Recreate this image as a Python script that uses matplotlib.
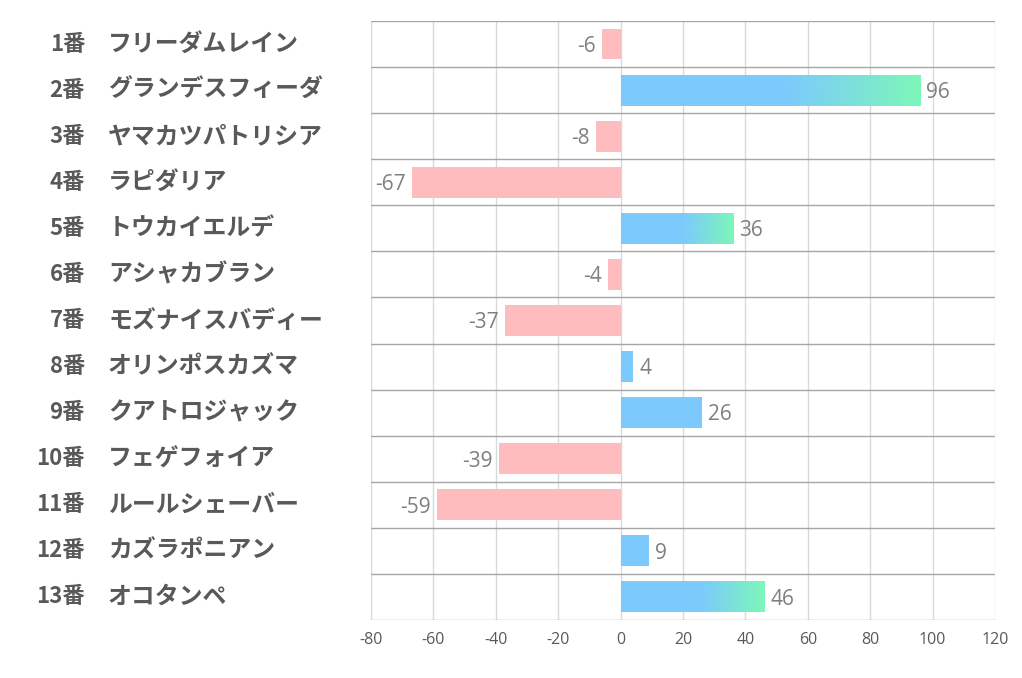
import numpy as np
import matplotlib.pyplot as plt
from matplotlib.colors import LinearSegmentedColormap

# data
nums = ['1番', '2番', '3番', '4番', '5番', '6番', '7番', '8番', '9番', '10番', '11番', '12番', '13番']
names = ['フリーダムレイン', 'グランデスフィーダ', 'ヤマカツパトリシア', 'ラピダリア', 'トウカイエルデ',
         'アシャカブラン', 'モズナイスバディー', 'オリンポスカズマ', 'クアトロジャック', 'フェゲフォイア',
         'ルールシェーバー', 'カズラポニアン', 'オコタンペ']
values = [-6, 96, -8, -67, 36, -4, -37, 4, 26, -39, -59, 9, 46]
xticks = [-80, -60, -40, -20, 0, 20, 40, 60, 80, 100, 120]

jp = ['Noto Sans CJK JP', 'DejaVu Sans']
num_font = ['Open Sans', 'DejaVu Sans']

pink = '#ffbcbf'
blue = '#7ccafd'
green = '#7cf7b9'
grad = LinearSegmentedColormap.from_list('g', [(0, blue), (0.55, blue), (1, green)])

fig = plt.figure(figsize=(10.22, 6.78), dpi=100)
ax = fig.add_axes([371 / 1022, 1 - 620 / 678, 624 / 1022, 599 / 678])

n = len(values)
ys = np.arange(n)
h = 0.67
for y, v in zip(ys, values):
    if v < 0:
        ax.barh(y, v, height=h, color=pink, zorder=2)
        ax.text(v - 2, y + 0.05, str(v), ha='right', va='center', fontsize=15,
                color='#7f7f7f', family=num_font, zorder=3)
    else:
        if v >= 30:
            g = np.linspace(0, 1, 256).reshape(1, -1)
            ax.imshow(g, cmap=grad, aspect='auto', extent=(0, v, y + h / 2, y - h / 2),
                      zorder=2, interpolation='bicubic')
        else:
            ax.barh(y, v, height=h, color=blue, zorder=2)
        ax.text(v + 2, y + 0.05, str(v), ha='left', va='center', fontsize=15,
                color='#7f7f7f', family=num_font, zorder=3)

ax.set_xlim(-80, 120)
ax.set_ylim(n - 0.5, -0.5)
ax.set_xticks(xticks)
ax.set_xticklabels([str(t) for t in xticks], family=num_font, fontsize=11.5, color='#595959')
ax.tick_params(axis='x', length=0, pad=9)
ax.set_yticks([])
for t in xticks:
    ax.axvline(t, color='#d9d9d9', lw=1, zorder=1)
for b in np.arange(-0.5, n, 1):
    ax.axhline(b, color='#a6a6a6', lw=1, zorder=1.5)
for s in ax.spines.values():
    s.set_visible(False)

# row labels on the left
for y, a, b in zip(ys, nums, names):
    fy = ax.transData.transform((0, y))[1] / fig.bbox.height
    fig.text(85 / 1022, fy, a, ha='right', va='center', fontsize=16,
             fontweight='bold', color='#595959', family=jp)
    fig.text(108 / 1022, fy, b, ha='left', va='center', fontsize=17.2,
             fontweight='bold', color='#595959', family=jp)

plt.savefig('out.png', dpi=100)
